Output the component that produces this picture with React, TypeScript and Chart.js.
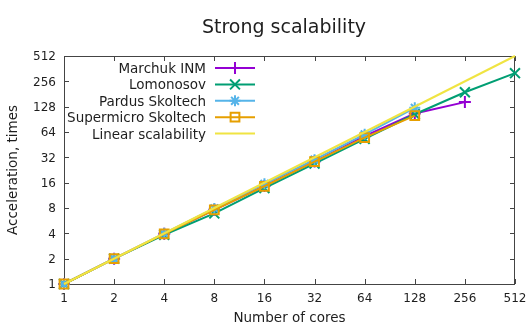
import { useEffect, useRef } from "react";
import { Chart, registerables } from "chart.js";

Chart.register(...registerables);

// Number of cores on each run
const coreCounts = [1, 2, 4, 8, 16, 32, 64, 128, 256, 512];
// Power-of-two tick values shared by both axes
const axisTicks = [1, 2, 4, 8, 16, 32, 64, 128, 256, 512];

// Measured acceleration per machine
const marchukINM = [1, 2, 3.95, 7.6, 14.6, 28.5, 57, 106, 145];
const lomonosov = [1, 2, 3.85, 6.9, 13.8, 27, 53, 104, 190, 320];
const pardusSkoltech = [1, 2, 4, 7.9, 15.5, 30, 60, 124];
const supermicroSkoltech = [1, 2, 3.95, 7.6, 14.5, 28.5, 55, 100];

// Ideal (linear) scaling reference
const linearCores = [1, 512];
const linearSpeedup = [1, 512];

const seriesNames = [
  "Marchuk INM",
  "Lomonosov",
  "Pardus Skoltech",
  "Supermicro Skoltech",
  "Linear scalability",
];
const seriesColors = ["#9400d3", "#009e73", "#56b4e9", "#e69f00", "#f0e442"];

const FONT = '"DejaVu Sans", sans-serif';
const TEXT = "#1e1e1e";
const FRAME = "#444444";

const toPoints = (xs: number[], ys: number[]) =>
  ys.map((y, i) => ({ x: xs[i], y }));

type Marker = "cross" | "crossRot" | "star" | "rect" | "none";

function drawMarker(
  ctx: CanvasRenderingContext2D,
  kind: Marker,
  x: number,
  y: number,
  r: number,
  color: string
) {
  ctx.save();
  ctx.strokeStyle = color;
  ctx.lineWidth = 2;
  ctx.beginPath();
  if (kind === "cross" || kind === "star") {
    ctx.moveTo(x - r, y);
    ctx.lineTo(x + r, y);
    ctx.moveTo(x, y - r);
    ctx.lineTo(x, y + r);
  }
  if (kind === "crossRot" || kind === "star") {
    const d = r * Math.SQRT1_2;
    ctx.moveTo(x - d, y - d);
    ctx.lineTo(x + d, y + d);
    ctx.moveTo(x - d, y + d);
    ctx.lineTo(x + d, y - d);
  }
  if (kind === "rect") {
    const s = r * Math.SQRT1_2;
    ctx.rect(x - s, y - s, 2 * s, 2 * s);
  }
  ctx.stroke();
  ctx.restore();
}

const markers: Marker[] = ["cross", "crossRot", "star", "rect", "none"];
const markerRadii = [6, 7, 5.5, 6.2, 0];

// Gnuplot-like decorations: boxed frame with inward mirrored ticks,
// tick labels, titles and an in-plot legend.
const frameDecor = {
  id: "frameDecor",
  beforeDatasetsDraw(chart: any) {
    const { ctx, chartArea: a, scales } = chart;
    ctx.save();
    ctx.strokeStyle = FRAME;
    ctx.lineWidth = 1;
    ctx.strokeRect(a.left + 0.5, a.top + 0.5, a.right - a.left - 1, a.bottom - a.top);
    ctx.beginPath();
    const t = 5;
    for (const v of axisTicks) {
      const px = Math.round(scales.x.getPixelForValue(v)) + 0.5;
      ctx.moveTo(px, a.bottom);
      ctx.lineTo(px, a.bottom - t);
      ctx.moveTo(px, a.top);
      ctx.lineTo(px, a.top + t);
      const py = Math.round(scales.y.getPixelForValue(v)) + 0.5;
      ctx.moveTo(a.left, py);
      ctx.lineTo(a.left + t, py);
      ctx.moveTo(a.right, py);
      ctx.lineTo(a.right - t, py);
    }
    ctx.stroke();

    ctx.fillStyle = TEXT;
    ctx.font = `12px ${FONT}`;
    ctx.textBaseline = "alphabetic";
    ctx.textAlign = "center";
    for (const v of axisTicks) {
      ctx.fillText(String(v), scales.x.getPixelForValue(v), a.bottom + 18);
    }
    ctx.textAlign = "right";
    for (const v of axisTicks) {
      ctx.fillText(String(v), a.left - 8, scales.y.getPixelForValue(v) + 4.4);
    }

    // titles
    ctx.textAlign = "center";
    ctx.font = `19px ${FONT}`;
    ctx.fillText("Strong scalability", 284, 32.5);
    ctx.font = `13.5px ${FONT}`;
    ctx.fillText("Number of cores", (a.left + a.right) / 2, 322);
    ctx.save();
    ctx.translate(16.6, (a.top + a.bottom) / 2);
    ctx.rotate(-Math.PI / 2);
    ctx.fillText("Acceleration, times", 0, 0);
    ctx.restore();
    ctx.restore();
  },
  afterDatasetsDraw(chart: any) {
    const { ctx } = chart;
    ctx.save();
    ctx.font = `13.5px ${FONT}`;
    ctx.fillStyle = TEXT;
    ctx.textAlign = "right";
    ctx.textBaseline = "alphabetic";
    seriesNames.forEach((name, i) => {
      const y = 68 + i * 16.4;
      ctx.fillText(name, 206, y + 4.9);
      ctx.strokeStyle = seriesColors[i];
      ctx.lineWidth = 2;
      ctx.beginPath();
      ctx.moveTo(215, y);
      ctx.lineTo(255, y);
      ctx.stroke();
      if (markers[i] !== "none") {
        drawMarker(ctx, markers[i], 235, y, markerRadii[i], seriesColors[i]);
      }
    });
    ctx.restore();
  },
};

export default function App() {
  const canvasRef = useRef<HTMLCanvasElement | null>(null);

  useEffect(() => {
    const canvas = canvasRef.current;
    if (!canvas) return;

    const seriesData = [
      toPoints(coreCounts, marchukINM),
      toPoints(coreCounts, lomonosov),
      toPoints(coreCounts, pardusSkoltech),
      toPoints(coreCounts, supermicroSkoltech),
      toPoints(linearCores, linearSpeedup),
    ];

    const datasets = seriesData.map((data, i) => ({
      label: seriesNames[i],
      data,
      borderColor: seriesColors[i],
      backgroundColor: "rgba(0,0,0,0)",
      borderWidth: 2,
      pointStyle: markers[i] === "none" ? false : markers[i],
      pointRadius: markerRadii[i],
      pointBorderWidth: 2,
      pointBorderColor: seriesColors[i],
      pointBackgroundColor: "rgba(0,0,0,0)",
      tension: 0,
      fill: false,
      clip: false as any,
      order: seriesNames.length - i,
    }));

    const chart = new Chart(canvas, {
      type: "line",
      data: { datasets: datasets as any },
      options: {
        animation: false,
        responsive: false,
        events: [],
        layout: { padding: { left: 64, top: 56, right: 17, bottom: 46 } },
        plugins: {
          legend: { display: false },
          title: { display: false },
          tooltip: { enabled: false },
        },
        scales: {
          x: { type: "logarithmic", min: 1, max: 512, display: false },
          y: { type: "logarithmic", min: 1, max: 512, display: false },
        },
      },
      plugins: [frameDecor],
    });

    return () => chart.destroy();
  }, []);

  return (
    <div
      style={{
        position: "absolute",
        left: 0,
        top: 0,
        width: 532,
        height: 330,
        background: "#ffffff",
      }}
    >
      <canvas ref={canvasRef} width={532} height={330} />
    </div>
  );
}
